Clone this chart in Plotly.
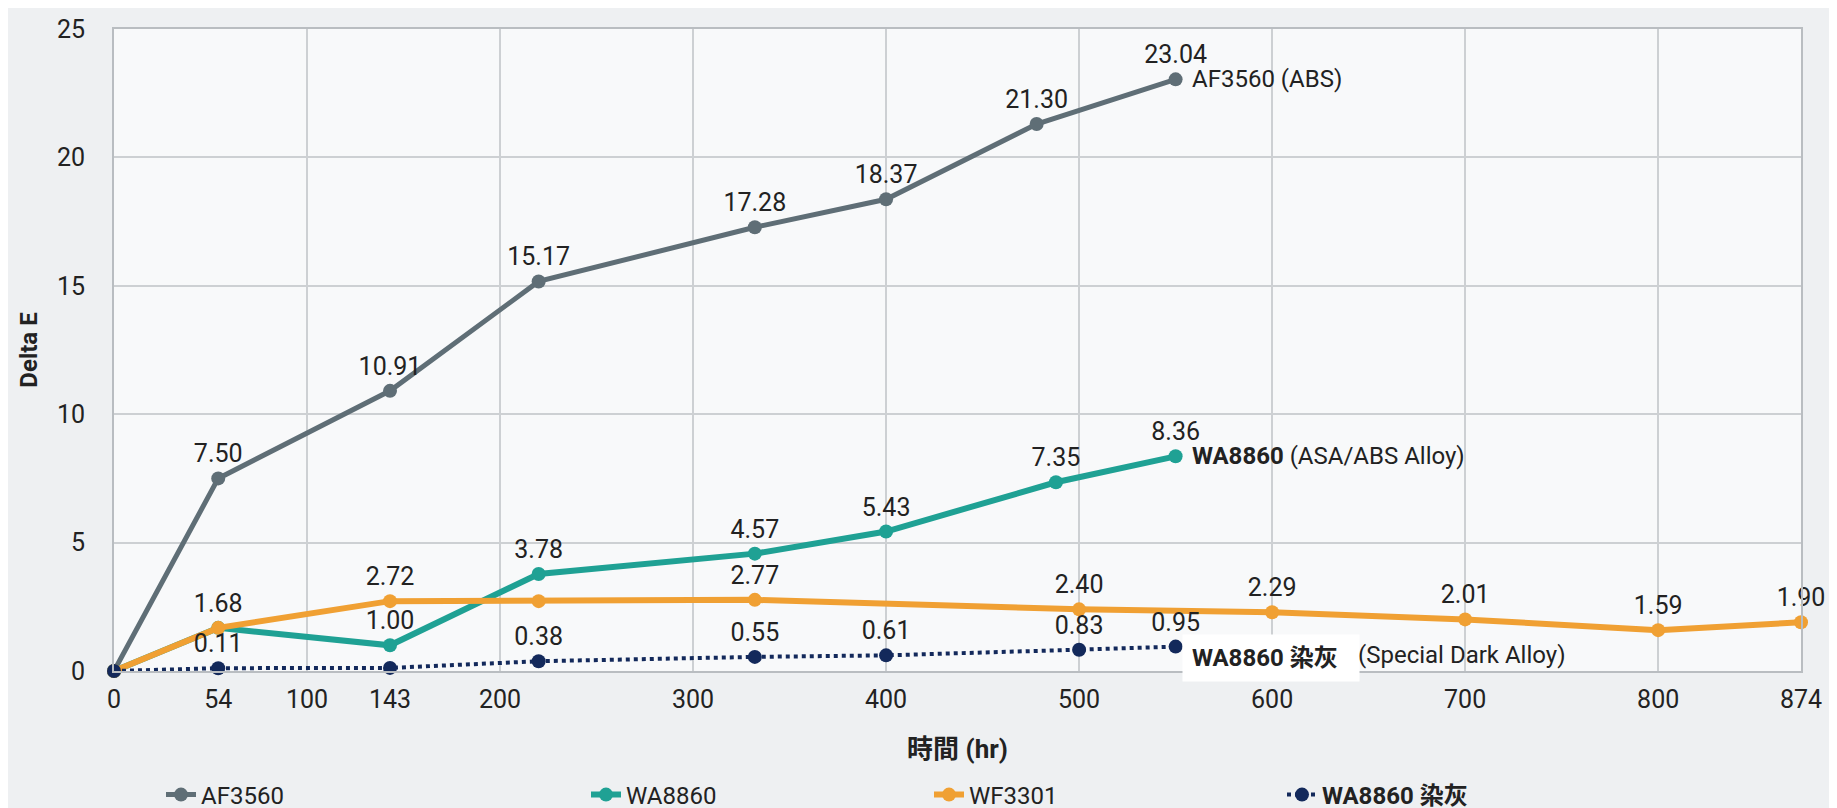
import plotly.graph_objects as go

# ---- data ----
af_x = [0, 54, 143, 220, 332, 400, 478, 550]
af_y = [0, 7.50, 10.91, 15.17, 17.28, 18.37, 21.30, 23.04]
af_t = ["", "7.50", "10.91", "15.17", "17.28", "18.37", "21.30", "23.04"]

wa_x = [0, 54, 143, 220, 332, 400, 488, 550]
wa_y = [0, 1.68, 1.00, 3.78, 4.57, 5.43, 7.35, 8.36]
wa_t = ["", "1.68", "1.00", "3.78", "4.57", "5.43", "7.35", "8.36"]

wf_x = [0, 54, 143, 220, 332, 500, 600, 700, 800, 874]
wf_y = [0, 1.68, 2.72, 2.72, 2.77, 2.40, 2.29, 2.01, 1.59, 1.90]
wf_t = ["", "", "2.72", "", "2.77", "2.40", "2.29", "2.01", "1.59", "1.90"]

dk_x = [0, 54, 143, 220, 332, 400, 500, 550]
dk_y = [0, 0.11, 0.12, 0.38, 0.55, 0.61, 0.83, 0.95]
dk_t = ["", "0.11", "", "0.38", "0.55", "0.61", "0.83", "0.95"]

label_ticks = [0, 54, 100, 143, 200, 300, 400, 500, 600, 700, 800, 874]
grid_ticks = [100, 200, 300, 400, 500, 600, 700, 800]
y_ticks = [0, 5, 10, 15, 20, 25]

names = ["AF3560", "WA8860", "WF3301", "<b>WA8860 染灰</b>"]
colors = ["#5f6e76", "#1fa194", "#f0a033", "#13295b"]

FONT = "Roboto, 'Noto Sans CJK TC', sans-serif"
TXT = "#222222"

fig = go.Figure()

# invisible trace carrying the grid-only x axis
fig.add_trace(go.Scatter(x=grid_ticks[:2], y=[None, None], xaxis="x2",
                         showlegend=False, hoverinfo="skip"))

series = [
    (af_x, af_y, af_t, 5, "solid", "legend"),
    (wa_x, wa_y, wa_t, 6, "solid", "legend2"),
    (wf_x, wf_y, wf_t, 6, "solid", "legend3"),
    (dk_x, dk_y, dk_t, 4, "dot", "legend4"),
]
for (xs, ys, ts, w, dash, lg), nm, col in zip(series, names, colors):
    fig.add_trace(go.Scatter(
        x=xs, y=ys, name=nm, mode="lines+markers+text",
        text=ts, textposition="top center",
        textfont=dict(family=FONT, size=25, color=TXT),
        line=dict(color=col, width=w, dash=dash),
        marker=dict(color=col, size=14),
        legend=lg, cliponaxis=False,
    ))

W, H = 1837, 808
ml, mr, mt, mb = 106, 44, 21, 145
pw = W - ml - mr

def px2x(p):
    return (p - ml) / pw

leg_common = dict(orientation="h", yanchor="middle", xanchor="left",
                  yref="container", y=(H - 787) / H,
                  bgcolor="rgba(0,0,0,0)",
                  font=dict(family=FONT, size=24, color=TXT))

fig.update_layout(
    width=W, height=H,
    margin=dict(l=ml, r=mr, t=mt, b=mb, autoexpand=False),
    paper_bgcolor="#eef0f2",
    plot_bgcolor="#f8f9fa",
    font=dict(family=FONT, color=TXT),
    xaxis=dict(
        range=[0, 874], tickmode="array", tickvals=label_ticks,
        ticktext=[str(v) for v in label_ticks],
        showgrid=False, automargin=False,
        showline=True, linecolor="#b9bdc1", linewidth=2, mirror=True,
        zeroline=False, ticks="", ticklabelstandoff=5,
        tickfont=dict(family=FONT, size=25, color=TXT),
        title=dict(text="<b>時間 (hr)</b>", standoff=27,
                   font=dict(family=FONT, size=26, color=TXT)),
    ),
    xaxis2=dict(
        range=[0, 874], overlaying="x", side="bottom", anchor="y",
        tickmode="array", tickvals=grid_ticks, showticklabels=False,
        showgrid=True, gridcolor="#cdd0d3", gridwidth=1.5, automargin=False,
        showline=False, zeroline=False, ticks="",
    ),
    yaxis=dict(
        range=[0, 25], tickmode="array", tickvals=y_ticks,
        showgrid=True, gridcolor="#cdd0d3", gridwidth=1.5, automargin=False,
        showline=True, linecolor="#b9bdc1", linewidth=2, mirror=True,
        zeroline=False, ticks="", ticklabelstandoff=22,
        tickfont=dict(family=FONT, size=25, color=TXT),
        title=dict(text="<b>Delta E</b>", standoff=12,
                   font=dict(family=FONT, size=24, color=TXT)),
    ),
    legend=dict(x=px2x(153), **leg_common),
    legend2=dict(x=px2x(578), **leg_common),
    legend3=dict(x=px2x(921), **leg_common),
    legend4=dict(x=px2x(1274), **leg_common),
    showlegend=True,
)

# end-of-line labels
fig.add_annotation(x=af_x[-1], y=af_y[-1], text="AF3560 (ABS)", showarrow=False,
                   xanchor="left", yanchor="middle", xshift=14,
                   font=dict(family=FONT, size=24, color=TXT))
fig.add_annotation(x=wa_x[-1], y=wa_y[-1], text="<b>WA8860</b> (ASA/ABS Alloy)",
                   showarrow=False, xanchor="left", yanchor="middle", xshift=14,
                   font=dict(family=FONT, size=24, color=TXT))
fig.add_annotation(x=dk_x[-1], y=dk_y[-1], text="<b>WA8860 染灰</b>",
                   showarrow=False, xanchor="left", yanchor="middle", xshift=6,
                   yshift=-11, bgcolor="#ffffff", borderpad=9, width=158,
                   align="left",
                   font=dict(family=FONT, size=24, color=TXT))
fig.add_annotation(x=dk_x[-1], y=dk_y[-1], text="(Special Dark Alloy)",
                   showarrow=False, xanchor="left", yanchor="middle", xshift=180,
                   yshift=-8, font=dict(family=FONT, size=24, color=TXT))

fig.write_html("out.html")
